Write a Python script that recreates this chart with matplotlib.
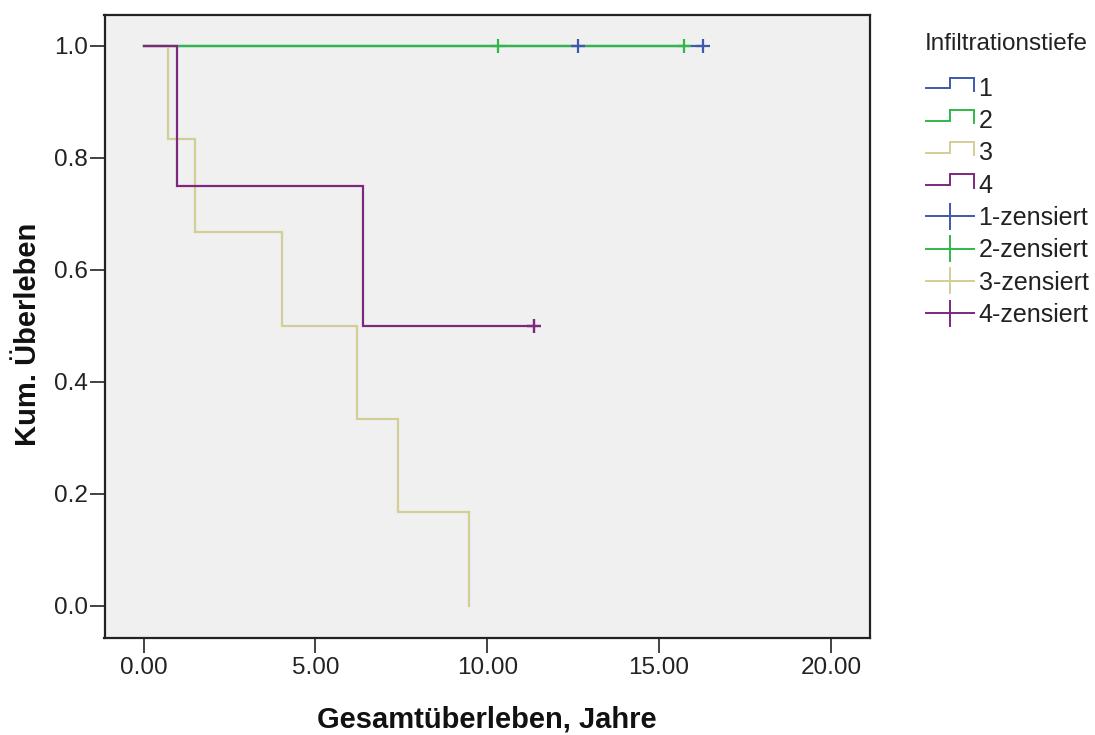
import matplotlib
matplotlib.use("Agg")
import matplotlib.pyplot as plt
from matplotlib.lines import Line2D
from matplotlib.legend_handler import HandlerBase

plt.rcParams['font.family'] = ['Liberation Sans', 'DejaVu Sans']

# Kaplan-Meier step data per infiltration-depth group (time in years, survival)
groups = ['1', '2', '3', '4']
colors = ['#3E58AC', '#2EB848', '#D3CE97', '#7C287D']

times_1 = [0.0, 16.27]
surv_1 = [1.0, 1.0]
times_2 = [0.0, 15.74]
surv_2 = [1.0, 1.0]
times_3 = [0.0, 0.70, 1.49, 4.03, 6.20, 7.40, 9.48]
surv_3 = [1.0, 0.833, 0.667, 0.5, 0.333, 0.167, 0.0]
times_4 = [0.0, 0.97, 6.38, 11.37]
surv_4 = [1.0, 0.75, 0.5, 0.5]

# censored observations (time, survival at that time)
cens_t_1 = [12.63, 16.27]
cens_s_1 = [1.0, 1.0]
cens_t_2 = [10.32, 15.74]
cens_s_2 = [1.0, 1.0]
cens_t_3 = []
cens_s_3 = []
cens_t_4 = [11.37, 11.37]
cens_s_4 = [0.5, 0.5]

x_ticks = [0, 5, 10, 15, 20]
x_ticklabels = ['0.00', '5.00', '10.00', '15.00', '20.00']
y_ticks = [0.0, 0.2, 0.4, 0.6, 0.8, 1.0]
y_ticklabels = ['0.0', '0.2', '0.4', '0.6', '0.8', '1.0']

step_times = [times_1, times_2, times_3, times_4]
step_surv = [surv_1, surv_2, surv_3, surv_4]
cens_times = [cens_t_1, cens_t_2, cens_t_3, cens_t_4]
cens_surv = [cens_s_1, cens_s_2, cens_s_3, cens_s_4]

W, H = 1095, 735
fig = plt.figure(figsize=(W / 100, H / 100), dpi=100)
ax = fig.add_axes([104.5 / W, 1 - 637.5 / H, (870 - 104.5) / W, (637.5 - 15) / H])
ax.set_facecolor('#F0F0F0')

step_lines = []
cens_lines = []
for t, s, c in zip(step_times, step_surv, colors):
    ln, = ax.step(t, s, where='post', color=c, lw=1.6, solid_joinstyle='miter')
    step_lines.append(ln)
for t, s, c in zip(cens_times, cens_surv, colors):
    ln, = ax.plot(t, s, ls='none', marker='+', ms=10, mew=1.6, color=c)
    cens_lines.append(ln)

ax.set_xlim(-1.14, 21.14)
ax.set_ylim(-0.057, 1.055)
ax.set_xticks(x_ticks)
ax.set_xticklabels(x_ticklabels)
ax.set_yticks(y_ticks)
ax.set_yticklabels(y_ticklabels)
ax.tick_params(axis='both', direction='out', length=11, width=1.2, colors='#222222',
               labelsize=17.5, labelcolor='#222222')
ax.tick_params(axis='y', pad=1)
ax.tick_params(axis='x', pad=3)
for sp in ax.spines.values():
    sp.set_linewidth(1.6)
    sp.set_color('#222222')

fig.text(487 / W, 1 - 719 / H, 'Gesamtüberleben, Jahre', ha='center', va='center',
         fontsize=21, fontweight='bold', color='#111111')
fig.text(28 / W, 1 - 334 / H, 'Kum. Überleben', ha='center', va='center', rotation=90,
         fontsize=21, fontweight='bold', color='#111111')


class StepHandler(HandlerBase):
    def create_artists(self, legend, orig_handle, xdescent, ydescent, width, height,
                       fontsize, trans):
        x0, y0 = -xdescent, -ydescent
        xm = x0 + 0.51 * width
        xs = [x0, xm, xm, x0 + width, x0 + width]
        ys = [y0 + 0.43 * height, y0 + 0.43 * height, y0 + 1.05 * height,
              y0 + 1.05 * height, y0 + 0.29 * height]
        return [Line2D(xs, ys, color=orig_handle.get_color(), lw=1.4,
                       solid_joinstyle='miter', transform=trans)]


class CensorHandler(HandlerBase):
    def create_artists(self, legend, orig_handle, xdescent, ydescent, width, height,
                       fontsize, trans):
        x0, y0 = -xdescent, -ydescent
        yc = y0 + 0.5 * height
        xc = x0 + 0.5 * width
        c = orig_handle.get_color()
        h = Line2D([x0, x0 + width], [yc, yc], color=c, lw=1.4, transform=trans)
        v = Line2D([xc, xc], [yc - 9, yc + 9], color=c, lw=1.4, transform=trans)
        return [h, v]


handler_map = {ln: StepHandler() for ln in step_lines}
handler_map.update({ln: CensorHandler() for ln in cens_lines})
labels = groups + [g + '-zensiert' for g in groups]

fig.text(925 / W, 1 - 44 / H, 'Infiltrationstiefe', ha='left', va='center',
         fontsize=17.5, color='#222222')
fig.legend(step_lines + cens_lines, labels, handler_map=handler_map,
           loc='upper left', bbox_to_anchor=(926 / W, 1 - 77 / H),
           frameon=False, borderpad=0, borderaxespad=0, fontsize=18,
           handlelength=1.9, handletextpad=0.2, labelspacing=0.33,
           labelcolor='#222222')

fig.savefig('out.png', dpi=100, facecolor='white')
